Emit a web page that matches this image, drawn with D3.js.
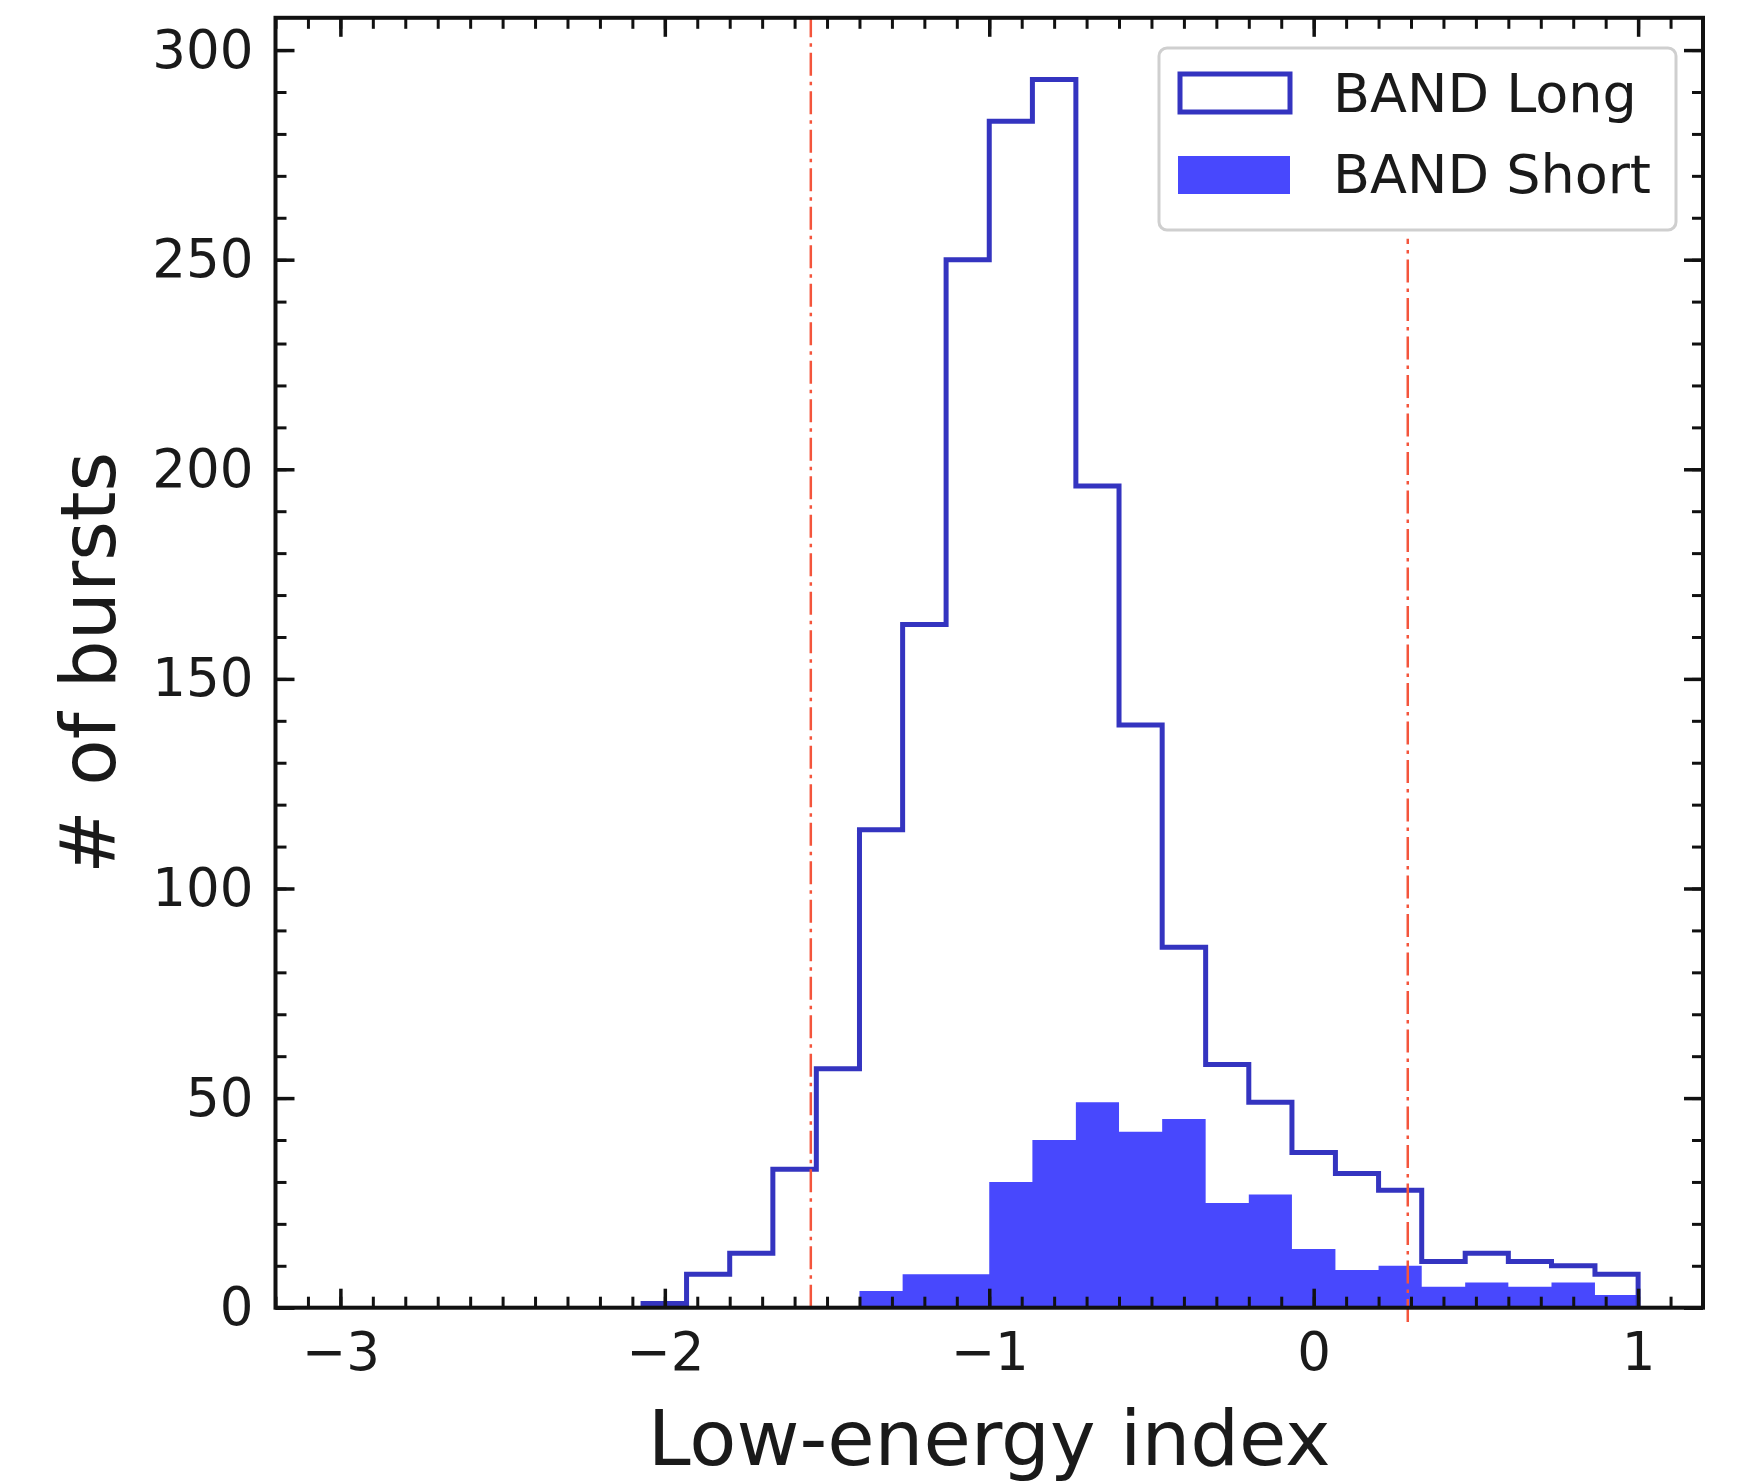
<!DOCTYPE html>
<html>
<head>
<meta charset="utf-8">
<script src="https://cdn.jsdelivr.net/npm/d3@7"></script>
<style>
  body { margin: 0; background: #fff; }
  text { font-family: "DejaVu Sans", sans-serif; fill: #1a1a1a; }
</style>
</head>
<body>
<svg id="chart"></svg>
<script>
// histogram bin edges (low-energy index)
var binEdges = [-2.067, -1.933, -1.8, -1.667, -1.533, -1.4, -1.267, -1.133, -1.0, -0.867,
                -0.733, -0.6, -0.467, -0.333, -0.2, -0.067, 0.067, 0.2, 0.333, 0.467,
                0.6, 0.733, 0.867, 1.0];
// counts per bin
var longCounts  = [1, 8, 13, 33, 57, 114, 163, 250, 283, 293, 196, 139, 86, 58, 49, 37, 32, 28, 11, 13, 11, 10, 8];
var shortCounts = [0, 0, 0, 0, 0, 4, 8, 8, 30, 40, 49, 42, 45, 25, 27, 14, 9, 10, 5, 6, 5, 6, 3];
// dash-dot marker lines: [x, yFrom, yTo]
var markLines = [[-1.55, 0, 307.7], [0.29, -3.4, 255]];
var xTicks = [-3, -2, -1, 0, 1];
var yTicks = [0, 50, 100, 150, 200, 250, 300];
var seriesNames = ["BAND Long", "BAND Short"];

var W = 1742, H = 1484;
var margin = {top: 17.8, right: 39, bottom: 176.3, left: 275.5};
var width = W - margin.left - margin.right;
var height = H - margin.top - margin.bottom;

var longColor = "#3434c0";
var shortColor = "#4848fd";

var svg = d3.select("#chart").attr("width", W).attr("height", H);
var g = svg.append("g").attr("transform", "translate(" + margin.left + "," + margin.top + ")");

var x = d3.scaleLinear().domain([-3.2, 1.2]).range([0, width]);
var y = d3.scaleLinear().domain([0, 307.7]).range([height, 0]);

// short: filled step histogram
var shortPts = shortCounts.map(function(c, i) { return {x: binEdges[i], y: c}; });
shortPts.push({x: binEdges[binEdges.length - 1], y: shortCounts[shortCounts.length - 1]});
var area = d3.area()
    .curve(d3.curveStepAfter)
    .x(function(d) { return x(d.x); })
    .y0(y(0))
    .y1(function(d) { return y(d.y); });
g.append("path").datum(shortPts)
    .attr("d", area)
    .attr("fill", shortColor);

// long: outline step histogram
var longPts = [{x: binEdges[0], y: 0}];
longCounts.forEach(function(c, i) { longPts.push({x: binEdges[i], y: c}); });
longPts.push({x: binEdges[binEdges.length - 1], y: longCounts[longCounts.length - 1]});
longPts.push({x: binEdges[binEdges.length - 1], y: 0});
var line = d3.line()
    .curve(d3.curveStepAfter)
    .x(function(d) { return x(d.x); })
    .y(function(d) { return y(d.y); });
g.append("path").datum(longPts)
    .attr("d", line)
    .attr("fill", "none")
    .attr("stroke", longColor)
    .attr("stroke-width", 5)
    .attr("stroke-linejoin", "miter");

// red dash-dot lines
g.selectAll(".mark").data(markLines).enter().append("line")
    .attr("class", "mark")
    .attr("x1", function(d) { return x(d[0]); })
    .attr("x2", function(d) { return x(d[0]); })
    .attr("y1", function(d) { return y(d[1]); })
    .attr("y2", function(d) { return y(d[2]); })
    .attr("stroke", "#f4553c")
    .attr("stroke-width", 2.5)
    .attr("stroke-dasharray", "23,6,3.5,6");

// axes, ticks pointing in on all four sides
var xMinor = d3.range(-32, 13).map(function(v) { return v / 10; });
var yMinor = d3.range(0, 310, 10);

function clean(sel) { sel.select(".domain").remove(); }

function styleTicks(sel, w) {
  sel.selectAll(".tick line").attr("stroke", "#111").attr("stroke-width", w);
  sel.selectAll(".tick text").style("font-size", "53px").style("font-family", "DejaVu Sans").attr("fill", "#1a1a1a");
}

g.append("g").attr("transform", "translate(0," + height + ")")
    .call(d3.axisBottom(x).tickValues(xMinor).tickFormat("").tickSizeInner(-11).tickSizeOuter(0))
    .call(clean).call(styleTicks, 3);
g.append("g").attr("transform", "translate(0," + height + ")")
    .call(d3.axisBottom(x).tickValues(xTicks).tickFormat(d3.format("d")).tickSizeInner(-19).tickSizeOuter(0).tickPadding(25))
    .call(clean).call(styleTicks, 3.5);
g.append("g")
    .call(d3.axisTop(x).tickValues(xMinor).tickFormat("").tickSizeInner(-11).tickSizeOuter(0))
    .call(clean).call(styleTicks, 3);
g.append("g")
    .call(d3.axisTop(x).tickValues(xTicks).tickFormat("").tickSizeInner(-19).tickSizeOuter(0))
    .call(clean).call(styleTicks, 3.5);

g.append("g")
    .call(d3.axisLeft(y).tickValues(yMinor).tickFormat("").tickSizeInner(-11).tickSizeOuter(0))
    .call(clean).call(styleTicks, 3);
g.append("g")
    .call(d3.axisLeft(y).tickValues(yTicks).tickSizeInner(-19).tickSizeOuter(0).tickPadding(22))
    .call(clean).call(styleTicks, 3.5);
g.append("g").attr("transform", "translate(" + width + ",0)")
    .call(d3.axisRight(y).tickValues(yMinor).tickFormat("").tickSizeInner(-11).tickSizeOuter(0))
    .call(clean).call(styleTicks, 3);
g.append("g").attr("transform", "translate(" + width + ",0)")
    .call(d3.axisRight(y).tickValues(yTicks).tickFormat("").tickSizeInner(-19).tickSizeOuter(0))
    .call(clean).call(styleTicks, 3.5);

// frame
g.append("rect")
    .attr("width", width).attr("height", height)
    .attr("fill", "none").attr("stroke", "#111").attr("stroke-width", 4);

// axis labels
svg.append("text")
    .attr("x", margin.left + width / 2)
    .attr("y", 1465)
    .attr("text-anchor", "middle")
    .style("font-size", "77px")
    .text("Low-energy index");
svg.append("text")
    .attr("transform", "translate(115," + (margin.top + height / 2) + ") rotate(-90)")
    .attr("text-anchor", "middle")
    .style("font-size", "76px")
    .text("# of bursts");

// legend
var legend = svg.append("g");
legend.append("rect")
    .attr("x", 1159).attr("y", 48).attr("width", 517).attr("height", 182)
    .attr("rx", 8)
    .attr("fill", "#fff").attr("fill-opacity", 0.85)
    .attr("stroke", "#cfcfcf").attr("stroke-width", 3);
legend.append("rect")
    .attr("x", 1180).attr("y", 74).attr("width", 110).attr("height", 38)
    .attr("fill", "#fff").attr("stroke", longColor).attr("stroke-width", 5);
legend.append("rect")
    .attr("x", 1178).attr("y", 156).attr("width", 112).attr("height", 38)
    .attr("fill", shortColor);
legend.selectAll(".lt").data(seriesNames).enter().append("text")
    .attr("class", "lt")
    .attr("x", 1333)
    .attr("y", function(d, i) { return i === 0 ? 112 : 193; })
    .style("font-size", "54px")
    .text(function(d) { return d; });
</script>
</body>
</html>
